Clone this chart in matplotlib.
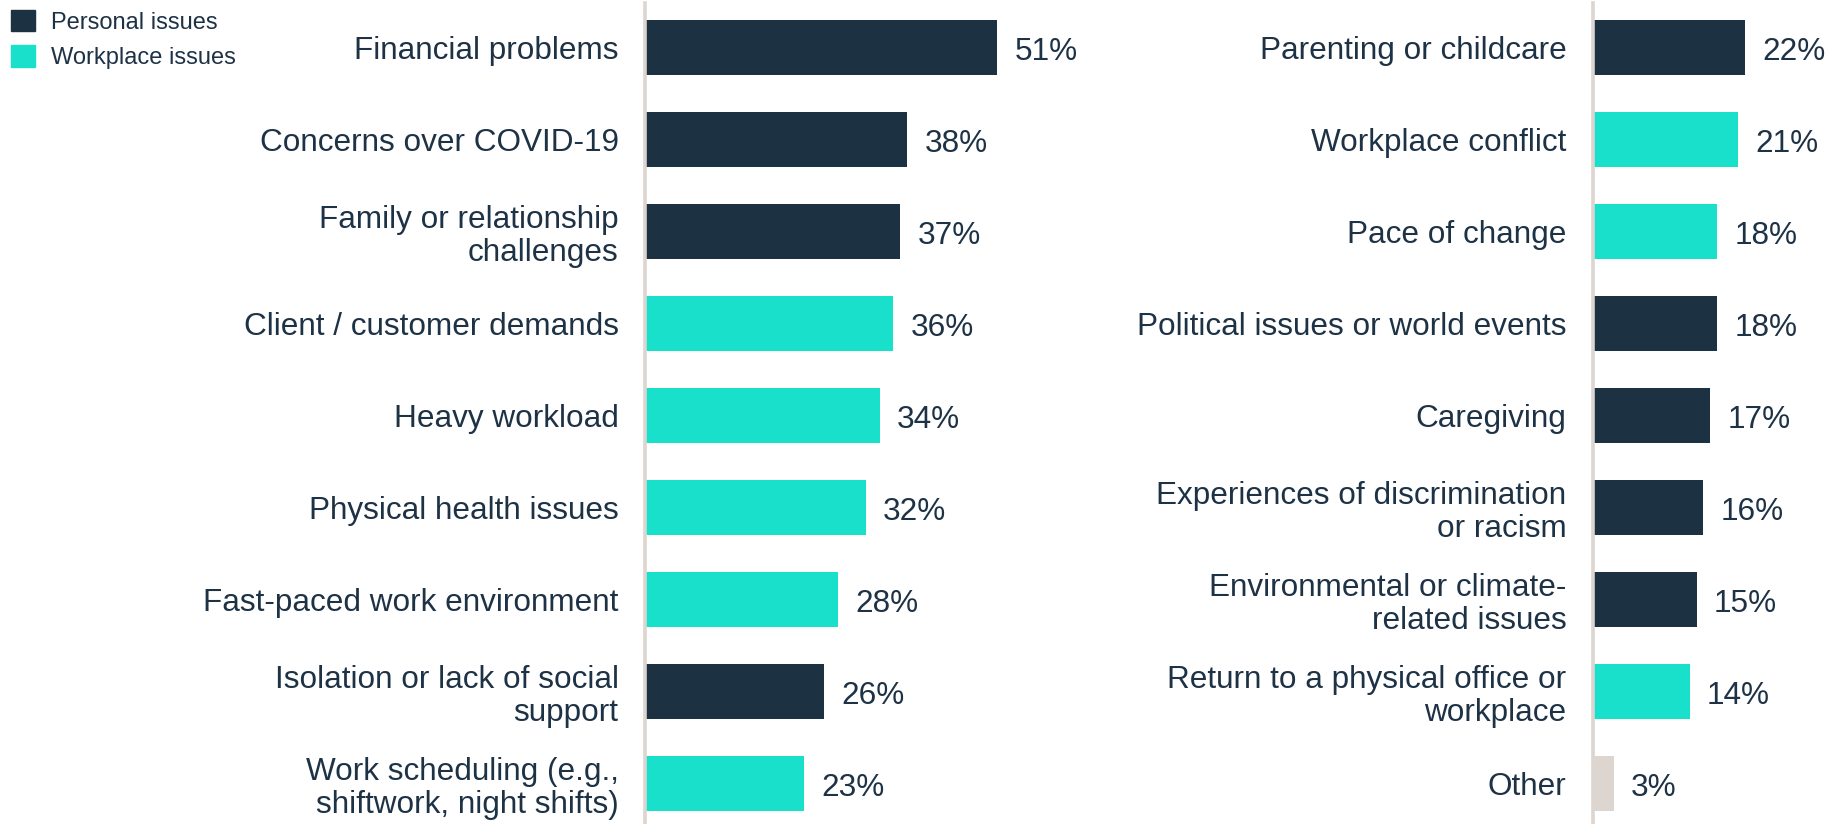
import matplotlib
matplotlib.use('Agg')
import matplotlib.pyplot as plt
from matplotlib.patches import Patch

plt.rcParams['font.family'] = ['Liberation Sans', 'DejaVu Sans']

# stressors, split across two columns (values in % of respondents)
left_labels = ['Financial problems', 'Concerns over COVID-19',
               'Family or relationship\nchallenges', 'Client / customer demands',
               'Heavy workload', 'Physical health issues',
               'Fast-paced work environment', 'Isolation or lack of social\nsupport',
               'Work scheduling (e.g.,\nshiftwork, night shifts)']
left_values = [51, 38, 37, 36, 34, 32, 28, 26, 23]
left_types = ['personal', 'personal', 'personal', 'workplace', 'workplace',
              'workplace', 'workplace', 'personal', 'workplace']

right_labels = ['Parenting or childcare', 'Workplace conflict', 'Pace of change',
                'Political issues or world events', 'Caregiving',
                'Experiences of discrimination\nor racism',
                'Environmental or climate-\nrelated issues',
                'Return to a physical office or\nworkplace', 'Other']
right_values = [22, 21, 18, 18, 17, 16, 15, 14, 3]
right_types = ['personal', 'workplace', 'workplace', 'personal', 'personal',
               'personal', 'personal', 'workplace', 'other']

colors = {'personal': '#1c3142', 'workplace': '#19e0ca', 'other': '#ddd5cf'}
text_color = '#1e3246'
line_color = '#ddd5cf'

W, H = 1839, 824
fig = plt.figure(figsize=(W / 100, H / 100), dpi=100)

px_per_pct = 6.9
ylim = (8.44, -0.484)
fs = 22.7


def panel(x0, x1, labels, values, types):
    ax = fig.add_axes([x0 / W, 0, (x1 - x0) / W, 1 - 3 / H])
    ypos = list(range(len(values)))
    ax.barh(ypos, values, height=0.6, color=[colors[t] for t in types])
    for y, v in zip(ypos, values):
        ax.annotate(f'{v}%', (v, y), xytext=(12.5, -3.5), textcoords='offset points',
                    va='center', ha='left', fontsize=fs, color=text_color)
    ax.set_xlim(0, (x1 - x0) / px_per_pct)
    ax.set_ylim(*ylim)
    ax.set_yticks(ypos)
    ax.set_yticklabels(labels, fontsize=fs, color=text_color, linespacing=1.12)
    ax.tick_params(axis='y', length=0, pad=19)
    ax.set_xticks([])
    for s in ['top', 'right', 'bottom']:
        ax.spines[s].set_visible(False)
    ax.spines['left'].set_color(line_color)
    ax.spines['left'].set_linewidth(2.6)
    ax.patch.set_visible(False)
    return ax


panel(645, 1100, left_labels, left_values, left_types)
panel(1593, W, right_labels, right_values, right_types)

handles = [Patch(color=colors['personal'], label='Personal issues'),
           Patch(color=colors['workplace'], label='Workplace issues')]
leg = fig.legend(handles=handles, loc='upper left', bbox_to_anchor=(11 / W, 1 - 10 / H),
                 frameon=False, fontsize=17, handlelength=1.0, handleheight=1.0,
                 handletextpad=0.7, labelspacing=0.5, borderpad=0, borderaxespad=0)
for t in leg.get_texts():
    t.set_color(text_color)

fig.savefig('out.png', dpi=100)
